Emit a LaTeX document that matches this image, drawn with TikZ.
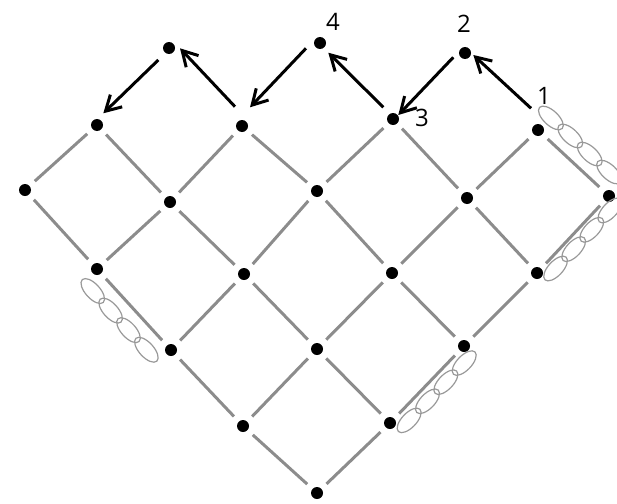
\documentclass[tikz,border=0pt]{standalone}
\usepackage{fontspec}
\setmainfont{Open Sans}
\usetikzlibrary{arrows.meta,calc}
\newcommand\linkchain[4]{%
  \pgfmathanglebetweenpoints{\pgfpointanchor{#1}{center}}{\pgfpointanchor{#2}{center}}%
  \let\chainang\pgfmathresult
  \begin{scope}[shift={($(#1)!0.5!(#2)$)},rotate=\chainang]
    \foreach \k in {-1.5,-0.5,0.5,1.5}
      \draw[link] ({\k*26.5+(#4)},{#3}) ellipse [x radius=15.5pt,y radius=7.3pt];
  \end{scope}}
\begin{document}
\begin{tikzpicture}[x=1pt,y=-1pt,
  dot/.style={circle,fill=black,minimum size=12pt,inner sep=0pt},
  edge/.style={draw=black!45,line width=3pt,shorten <=7pt,shorten >=7pt},
  arr/.style={draw=black,line width=3pt,-{Straight Barb[length=15pt,width=17pt]}},
  link/.style={draw=black!40,line width=1.2pt},
  lab/.style={font=\fontsize{24}{28}\selectfont,inner sep=0pt}]
\useasboundingbox (0,0) rectangle (617,503);
% dots
\node[dot] (n00) at (317,493) {};
\node[dot] (n10) at (243,426) {};
\node[dot] (n01) at (390,423) {};
\node[dot] (n20) at (171,350) {};
\node[dot] (n11) at (317,349) {};
\node[dot] (n02) at (464,346) {};
\node[dot] (n30) at (97,269) {};
\node[dot] (n21) at (244,274) {};
\node[dot] (n12) at (392,273) {};
\node[dot] (n03) at (537,273) {};
\node[dot] (n40) at (25,190) {};
\node[dot] (n31) at (170,202) {};
\node[dot] (n22) at (317,191) {};
\node[dot] (n13) at (467,198) {};
\node[dot] (n04) at (609,196) {};
\node[dot] (n41) at (97,125) {};
\node[dot] (n32) at (242,126) {};
\node[dot] (n23) at (393,119) {};
\node[dot] (n14) at (538,130) {};
\node[dot] (n42) at (169,48) {};
\node[dot] (n33) at (320,43) {};
\node[dot] (n24) at (465,53) {};
% lattice edges
\foreach \a/\b in {n00/n10,n00/n01,
  n10/n20,n10/n11,n01/n11,n01/n02,
  n20/n30,n20/n21,n11/n21,n11/n12,n02/n12,n02/n03,
  n30/n40,n30/n31,n21/n31,n21/n22,n12/n22,n12/n13,n03/n13,n03/n04,
  n40/n41,n31/n41,n31/n32,n22/n32,n22/n23,n13/n23,n13/n14,n04/n14}
  \draw[edge] (\a) -- (\b);
% chains of links
\linkchain{n30}{n20}{18}{-1.7}
\linkchain{n01}{n02}{12}{1.5}
\linkchain{n14}{n04}{-17.6}{-7.5}
\linkchain{n03}{n04}{10.5}{3}
% arrows
\draw[arr] ([shift={(-7,-21.7)}]n14.center) -- ([shift={(8.3,2)}]n24.center);
\draw[arr] ([shift={(-11.7,4.3)}]n24.center) -- ([shift={(5.3,-4)}]n23.center);
\draw[arr] ([shift={(-9.7,-11.7)}]n23.center) -- ([shift={(8.3,9.7)}]n33.center);
\draw[arr] ([shift={(-14,5.3)}]n33.center) -- ([shift={(8,-18.7)}]n32.center);
\draw[arr] ([shift={(-7,-19.3)}]n32.center) -- ([shift={(11,0.3)}]n42.center);
\draw[arr] ([shift={(-10.7,12)}]n42.center) -- ([shift={(6.3,-11.7)}]n41.center);
% labels
\node[lab] (l1) at (544,96) {1};
\node[lab] (l2) at (464,24) {2};
\node[lab] (l3) at (422,118) {3};
\node[lab] (l4) at (333,22) {4};
\end{tikzpicture}
\end{document}
